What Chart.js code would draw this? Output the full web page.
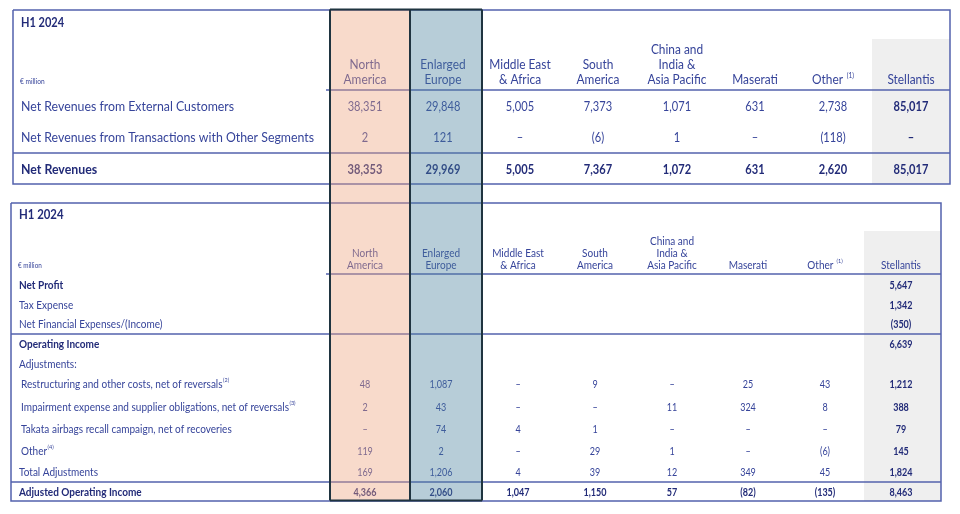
<!DOCTYPE html>
<html>
<head>
<meta charset="utf-8">
<script src="https://cdn.jsdelivr.net/npm/chart.js@4.4.1/dist/chart.umd.min.js"></script>
<style>
  html, body { margin: 0; padding: 0; background: #fff; }
  canvas { display: block; }
</style>
</head>
<body>
<canvas id="table" width="960" height="514"></canvas>
<script>
// ---- data ----
const period = 'H1 2024';
const unit = '€ million';
const headerLines = [['North', 'America'], ['Enlarged', 'Europe'], ['Middle East', '& Africa'], ['South', 'America'],
  ['China and', 'India &', 'Asia Pacific'], ['Maserati'], ['Other'], ['Stellantis']];
const headerNotes = ['', '', '', '', '', '', '(1)', ''];

// null = dash, '' = empty cell
const revenueRows = ['Net Revenues from External Customers', 'Net Revenues from Transactions with Other Segments', 'Net Revenues'];
const externalRevenues = [38351, 29848, 5005, 7373, 1071, 631, 2738, 85017];
const intersegmentRevenues = [2, 121, null, -6, 1, null, -118, null];
const netRevenues = [38353, 29969, 5005, 7367, 1072, 631, 2620, 85017];
const revenueBold = [false, false, true];

const incomeRows = ['Net Profit', 'Tax Expense', 'Net Financial Expenses/(Income)', 'Operating Income', 'Adjustments:',
  'Restructuring and other costs, net of reversals', 'Impairment expense and supplier obligations, net of reversals',
  'Takata airbags recall campaign, net of recoveries', 'Other', 'Total Adjustments', 'Adjusted Operating Income'];
const incomeNotes = ['', '', '', '', '', '(2)', '(3)', '', '(4)', '', ''];
const netProfit = ['', '', '', '', '', '', '', 5647];
const taxExpense = ['', '', '', '', '', '', '', 1342];
const netFinancial = ['', '', '', '', '', '', '', -350];
const operatingIncome = ['', '', '', '', '', '', '', 6639];
const adjustmentsHead = ['', '', '', '', '', '', '', ''];
const restructuring = [48, 1087, null, 9, null, 25, 43, 1212];
const impairment = [2, 43, null, null, 11, 324, 8, 388];
const takata = [null, 74, 4, 1, null, null, null, 79];
const otherAdjustments = [119, 2, null, 29, 1, null, -6, 145];
const totalAdjustments = [169, 1206, 4, 39, 12, 349, 45, 1824];
const adjustedOperatingIncome = [4366, 2060, 1047, 1150, 57, -82, -135, 8463];
const incomeBold = [true, false, false, true, false, false, false, false, false, false, true];
const incomeIndent = [false, false, false, false, false, true, true, true, true, false, false];

// ---- layout ----
const FONT = 'Lato, "Open Sans", sans-serif';
const NAVY = '#36449a';
const NAVY_BOLD = '#222b78';
const RULE = '#5362ad';

const TOP = {
  box: [13, 950, 10, 184], headRule: [326, 90], rules: [153],
  grey: [872, 950, 39, 184],
  cols: [365, 443, 520, 598, 677, 755, 833, 911],
  titleY: 23, titleSize: 12.5, unitY: 82, unitSize: 7.5,
  headBottom: 80, headStep: 15, headSize: 13.5,
  labelX: 21, rowY: [106, 137, 169], size: 14,
  span: [revenueRows[1], 293]
};
const BOT = {
  box: [11, 941, 203, 501], headRule: [326, 274], rules: [334, 482],
  grey: [864, 941, 231, 501],
  cols: [365, 441, 518, 595, 672, 748, 825, 901],
  titleY: 215, titleSize: 12.5, unitY: 266, unitSize: 7,
  headBottom: 265, headStep: 12, headSize: 11,
  labelX: 19, indentX: 21, rowY: [285, 305, 324, 344, 364, 384, 407, 429, 451, 472, 492], size: 11,
  span: [incomeRows[6], 268]
};
const OVERLAY = { cols: [330, 410, 482], y: [9.5, 500.5],
  fills: ['rgba(237,163,125,0.4)', 'rgba(75,130,158,0.4)'], edge: '#1f3440' };
const NUM_SQUEEZE = 0.9;

const fmt = v => v === '' ? '' : v === null ? '–' : v < 0 ? '(' + Math.abs(v).toLocaleString('en-US') + ')' : v.toLocaleString('en-US');

// rule lines as line datasets
function seg(x0, y0, x1, y1) {
  return { data: [{ x: x0, y: y0 }, { x: x1, y: y1 }], showLine: true, borderColor: RULE, borderWidth: 1.5,
    pointRadius: 0, fill: false };
}
const ruleSets = [];
[TOP, BOT].forEach(t => {
  const [x0, x1, y0, y1] = t.box;
  ruleSets.push({ data: [{ x: x0, y: y0 }, { x: x1, y: y0 }, { x: x1, y: y1 }, { x: x0, y: y1 }, { x: x0, y: y0 }],
    showLine: true, borderColor: RULE, borderWidth: 1.5, pointRadius: 0, fill: false });
  ruleSets.push(seg(t.headRule[0], t.headRule[1], x1, t.headRule[1]));
  t.rules.forEach(r => ruleSets.push(seg(x0, r, x1, r)));
});

function rect(chart, r, color) {
  const { ctx, scales: { x, y } } = chart;
  const px0 = x.getPixelForValue(r[0]), px1 = x.getPixelForValue(r[1]);
  const py0 = y.getPixelForValue(r[2]), py1 = y.getPixelForValue(r[3]);
  ctx.fillStyle = color;
  ctx.fillRect(px0, py0, px1 - px0, py1 - py0);
}

function text(chart, str, vx, vy, o) {
  const { ctx, scales: { x, y } } = chart;
  const mainFont = (o.bold ? '700 ' : '400 ') + o.size + 'px ' + FONT;
  const noteFont = '400 ' + (o.size * 0.55) + 'px ' + FONT;
  const gap = o.gap === undefined ? 0.5 : o.gap;
  ctx.save();
  ctx.fillStyle = o.bold ? NAVY_BOLD : NAVY;
  ctx.textBaseline = 'middle';
  ctx.textAlign = 'left';
  ctx.translate(x.getPixelForValue(vx), y.getPixelForValue(vy));
  ctx.scale(o.k, 1);
  ctx.font = mainFont;
  const w = ctx.measureText(str).width;
  let nw = 0;
  if (o.note) {
    ctx.font = noteFont;
    nw = ctx.measureText(o.note).width + gap;
    ctx.font = mainFont;
  }
  const left = o.align === 'center' ? -(w + nw) / 2 : 0;
  ctx.fillText(str, left, 0);
  if (o.note) {
    ctx.font = noteFont;
    ctx.fillText(o.note, left + w + gap, -o.size * 0.32);
  }
  ctx.restore();
}

function condense(chart, t) {
  const { ctx } = chart;
  ctx.save();
  ctx.font = '400 ' + t.size + 'px ' + FONT;
  const k = t.span[1] / ctx.measureText(t.span[0]).width;
  ctx.restore();
  return k;
}

function drawTable(chart, t, rows, notes, values, bold, indent) {
  const k = condense(chart, t);
  text(chart, period, t.labelX, t.titleY, { size: t.titleSize, bold: true, k });
  text(chart, unit, t.labelX - 1, t.unitY, { size: t.unitSize, k });
  headerLines.forEach((lines, c) => {
    lines.forEach((ln, i) => {
      const yy = t.headBottom - (lines.length - 1 - i) * t.headStep;
      const note = i === lines.length - 1 ? headerNotes[c] : '';
      text(chart, ln, t.cols[c], yy, { size: t.headSize, align: 'center', note, gap: t.headSize * 0.3, k });
    });
  });
  rows.forEach((r, i) => {
    const lx = indent && indent[i] ? t.indentX : t.labelX;
    text(chart, r, lx, t.rowY[i], { size: t.size, bold: bold[i], note: notes ? notes[i] : '', k });
    values[i].forEach((v, c) => {
      const s = fmt(v);
      if (s) text(chart, s, t.cols[c], t.rowY[i],
        { size: t.size, bold: bold[i] || c === 7, align: 'center', k: k * NUM_SQUEEZE });
    });
  });
}

const tablePlugin = {
  id: 'segmentTable',
  beforeDatasetsDraw(chart) {
    rect(chart, TOP.grey, '#efefef');
    rect(chart, BOT.grey, '#efefef');
  },
  afterDatasetsDraw(chart) {
    drawTable(chart, TOP, revenueRows, null, [externalRevenues, intersegmentRevenues, netRevenues], revenueBold, null);
    drawTable(chart, BOT, incomeRows, incomeNotes,
      [netProfit, taxExpense, netFinancial, operatingIncome, adjustmentsHead, restructuring, impairment, takata,
        otherAdjustments, totalAdjustments, adjustedOperatingIncome], incomeBold, incomeIndent);
    // highlighted segment columns
    const c = OVERLAY.cols;
    rect(chart, [c[0], c[1], OVERLAY.y[0], OVERLAY.y[1]], OVERLAY.fills[0]);
    rect(chart, [c[1], c[2], OVERLAY.y[0], OVERLAY.y[1]], OVERLAY.fills[1]);
    const { ctx, scales: { x, y } } = chart;
    ctx.save();
    ctx.strokeStyle = OVERLAY.edge;
    ctx.lineWidth = 2;
    ctx.beginPath();
    c.forEach(cx => {
      ctx.moveTo(x.getPixelForValue(cx), y.getPixelForValue(OVERLAY.y[0]));
      ctx.lineTo(x.getPixelForValue(cx), y.getPixelForValue(OVERLAY.y[1]));
    });
    [OVERLAY.y[0], OVERLAY.y[1]].forEach(yy => {
      ctx.moveTo(x.getPixelForValue(c[0]), y.getPixelForValue(yy));
      ctx.lineTo(x.getPixelForValue(c[2]), y.getPixelForValue(yy));
    });
    ctx.stroke();
    ctx.restore();
  }
};

new Chart(document.getElementById('table'), {
  type: 'scatter',
  data: { datasets: ruleSets },
  options: {
    responsive: false,
    animation: false,
    events: [],
    layout: { padding: 0 },
    plugins: { legend: { display: false }, tooltip: { enabled: false } },
    scales: {
      x: { type: 'linear', min: 0, max: 960, display: false },
      y: { type: 'linear', min: 0, max: 514, reverse: true, display: false }
    }
  },
  plugins: [tablePlugin]
});
</script>
</body>
</html>
